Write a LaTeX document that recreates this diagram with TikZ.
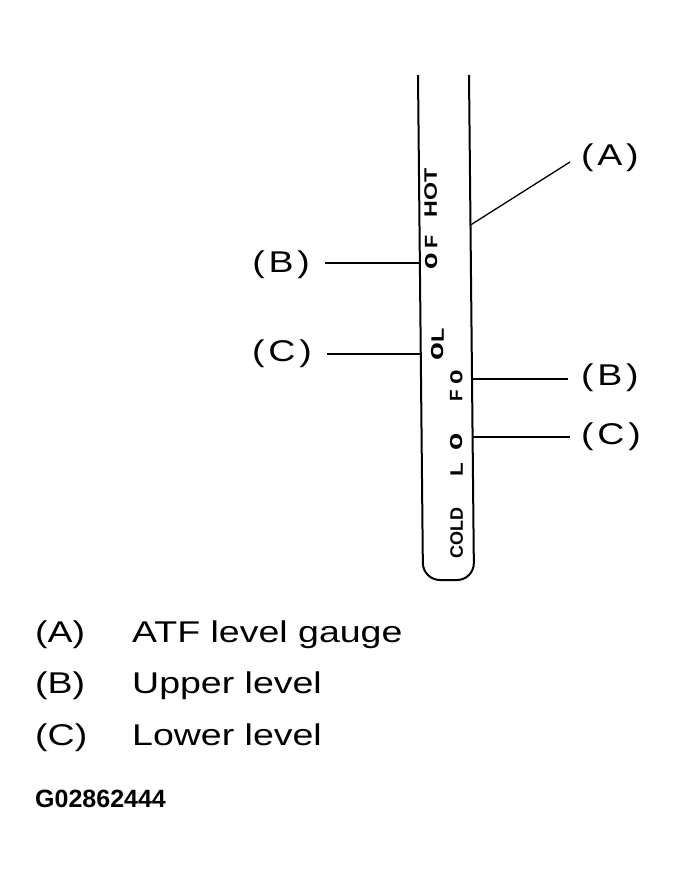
\documentclass[tikz,border=0pt]{standalone}
\usepackage{fontspec}
\setmainfont{Liberation Sans}
\newcommand\lblfont{\fontsize{30}{36}\selectfont}
\newcommand\gfont{\fontsize{18}{20}\selectfont\bfseries}
\newcommand\idfont{\fontsize{25}{29}\selectfont\bfseries}
\newcommand\ring{\scalebox{1.25}{o}}
\tikzset{
  gaugeline/.style={line width=2pt, line join=round},
  thinlead/.style={line width=1.3pt},
  thicklead/.style={line width=2.8pt},
  callout/.style={font=\lblfont, inner ysep=0pt},
  gtext/.style={rotate=90, font=\gfont, inner sep=0pt, text height=12.9pt, text depth=0pt, anchor=center},
  legend/.style={font=\lblfont, inner sep=0pt, anchor=base west},
}
\begin{document}
\begin{tikzpicture}[x=1pt, y=-1pt]
\fill[white] (0,0) rectangle (679,880);
\useasboundingbox (0,0) rectangle (679,880);
% gauge
\draw[gaugeline, rounded corners=17pt] (418,75) -- (423,580) -- (474,580) -- (469,75);
% attach points on the gauge
\coordinate (gA) at (470.5,225);
\coordinate (gBl) at (420,263);
\coordinate (gCl) at (421,354);
\coordinate (gBr) at (472.5,379);
\coordinate (gCr) at (473,437);
% gauge markings
\node[gtext] (hot) at (430.5,192.5) {\scalebox{1.29}[1]{HOT}};
\node[gtext] (oF) at (431,252.5) {\scalebox{1.2}[1]{\ring\hspace{4pt}F}};
\node[gtext] (oL) at (437.5,344) {\scalebox{1.3}[1]{\ring L}};
\node[gtext] (Fo) at (456,386) {\scalebox{1.05}[1]{F\hspace{5pt}\ring}};
\node[gtext] (Lo) at (456.5,455) {\scalebox{1.25}[1]{L\hspace{10pt}\ring}};
\node[gtext] (cold) at (456.5,532.5) {COLD};
% callout labels
\node[callout, inner xsep=11pt, anchor=west] (labA) at (570,157.5) {\scalebox{1.25}[1]{(\hspace{3pt}A\hspace{3pt})}};
\node[callout, inner xsep=15pt, anchor=east] (labBl) at (325,265) {\scalebox{1.25}[1]{(\hspace{3pt}B\hspace{3pt})}};
\node[callout, inner xsep=15pt, anchor=east] (labCl) at (327,354) {\scalebox{1.25}[1]{(\hspace{3pt}C\hspace{3pt})}};
\node[callout, inner xsep=13pt, anchor=west] (labBr) at (568,378) {\scalebox{1.25}[1]{(\hspace{3pt}B\hspace{3pt})}};
\node[callout, inner xsep=11pt, anchor=west] (labCr) at (570,437) {\scalebox{1.25}[1]{(\hspace{3pt}C\hspace{3pt})}};
% leaders
\draw[thinlead] (gA) -- ([yshift=-4.5pt]labA.west);
\draw[thicklead] (gBl) -- ([yshift=2pt]labBl.east);
\draw[thinlead] (gCl) -- (labCl.east);
\draw[thinlead] (gBr) -- (labBr.west |- gBr);
\draw[thicklead] (gCr) -- (labCr.west);
% legend
\node[legend] (legAk) at (35,642) {\scalebox{1.25}[1]{(A)}};
\node[legend] (legAt) at (132,642) {\scalebox{1.25}[1]{ATF level gauge}};
\node[legend] (legBk) at (35,693) {\scalebox{1.25}[1]{(B)}};
\node[legend] (legBt) at (132,693) {\scalebox{1.25}[1]{Upper level}};
\node[legend] (legCk) at (35,745) {\scalebox{1.25}[1]{(C)}};
\node[legend] (legCt) at (132,745) {\scalebox{1.25}[1]{Lower level}};
\node[legend, font=\idfont] (fig) at (35,807) {G02862444};
\end{tikzpicture}
\end{document}
